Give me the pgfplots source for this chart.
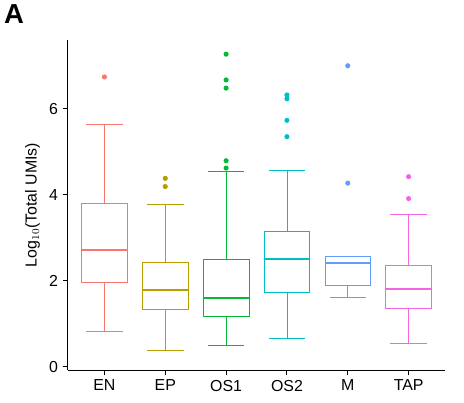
\documentclass[border=0pt]{standalone}
\usepackage{fontspec}
\setmainfont{Liberation Sans}
\usepackage{pgfplots}
\pgfplotsset{compat=1.18}
\usepgfplotslibrary{statistics}
\definecolor{c1}{HTML}{F8766D}\definecolor{c2}{HTML}{B79F00}\definecolor{c3}{HTML}{00BA38}
\definecolor{c4}{HTML}{00BFC4}\definecolor{c5}{HTML}{619CFF}\definecolor{c6}{HTML}{F564E3}
\begin{document}
\begin{tikzpicture}
\path (-1.8,-0.85) rectangle (10.5,9.81);
\begin{axis}[at={(0,0)},anchor=south west,scale only axis,width=10cm,height=8.75cm,
 axis x line=bottom, axis y line=left, axis line style={-,thick},
 xmin=0.4,xmax=6.6,ymin=-0.08,ymax=7.6,
 xtick={1,...,6},xticklabels={EN,EP,OS1,OS2,M,TAP},
 ytick={0,2,4,6}, tick align=outside, tick pos=left,
 major tick length=4pt,
 tick style={black,thick},
 /pgf/number format/assume math mode=true,
 ticklabel style={font=\large},
 ylabel={\large Log$_{10}$(Total UMIs)},
 boxplot/draw direction=y, boxplot/box extend=0.75,
 boxplot/every median/.style={line width=1.5pt},
 every axis plot/.append style={mark=*,mark size=1.6pt,line width=0.6pt},
 clip=false]
\addplot[c1,mark options={fill=c1},boxplot prepared={median=2.71,upper quartile=3.80,lower quartile=1.97,upper whisker=5.63,lower whisker=0.83}] coordinates {(0,6.74)};
\addplot[c2,mark options={fill=c2},boxplot prepared={median=1.78,upper quartile=2.43,lower quartile=1.34,upper whisker=3.77,lower whisker=0.37}] coordinates {(0,4.38)(0,4.19)};
\addplot[c3,mark options={fill=c3},boxplot prepared={median=1.60,upper quartile=2.50,lower quartile=1.18,upper whisker=4.55,lower whisker=0.49}] coordinates {(0,7.27)(0,6.67)(0,6.48)(0,4.79)(0,4.62)};
\addplot[c4,mark options={fill=c4},boxplot prepared={median=2.50,upper quartile=3.15,lower quartile=1.73,upper whisker=4.56,lower whisker=0.65}] coordinates {(0,6.32)(0,6.23)(0,5.73)(0,5.35)};
\addplot[c5,mark options={fill=c5},boxplot prepared={median=2.42,upper quartile=2.57,lower quartile=1.88,upper whisker=2.57,lower whisker=1.62}] coordinates {(0,7.0)(0,4.27)};
\addplot[c6,mark options={fill=c6},boxplot prepared={median=1.80,upper quartile=2.36,lower quartile=1.35,upper whisker=3.55,lower whisker=0.53}] coordinates {(0,4.42)(0,3.91)};
\end{axis}
\node[font=\bfseries\huge,anchor=north west,inner sep=0pt] at (-1.7,9.7) {A};
\end{tikzpicture}
\end{document}
